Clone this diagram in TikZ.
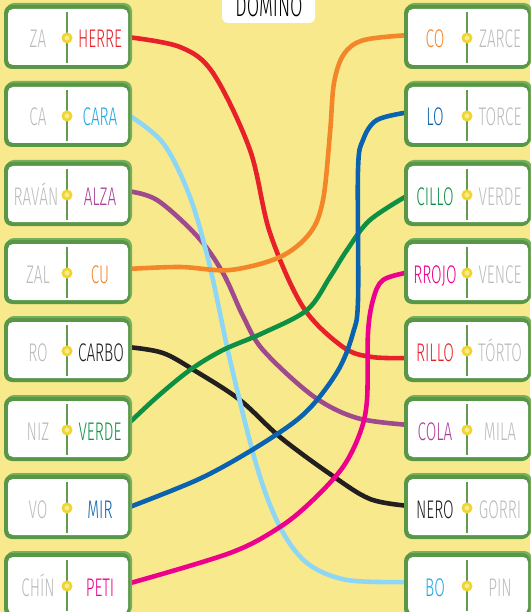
\documentclass[tikz,border=0pt]{standalone}
\usepackage{fontspec}
\newfontfamily\tf{Fira Sans Light}[FakeStretch=0.6]
\definecolor{bgyel}{RGB}{248,234,140}
\definecolor{tdark}{RGB}{88,150,72}
\definecolor{tlight}{RGB}{118,176,92}
\definecolor{tdiv}{RGB}{100,155,80}
\definecolor{dotyel}{RGB}{240,212,48}
\definecolor{dotpale}{RGB}{246,234,140}
\definecolor{wgray}{RGB}{188,188,188}
\definecolor{cred}{RGB}{232,32,42}
\definecolor{clblue}{RGB}{142,214,246}
\definecolor{tlblue}{RGB}{30,168,226}
\definecolor{cpurple}{RGB}{158,74,140}
\definecolor{tpurple}{RGB}{170,64,150}
\definecolor{corange}{RGB}{244,134,42}
\definecolor{cgreen}{RGB}{14,144,68}
\definecolor{cblue}{RGB}{11,99,176}
\definecolor{cpink}{RGB}{236,0,140}
\definecolor{cblack}{RGB}{35,31,32}
\tikzset{
  tilepic/.pic={
    \fill[tlight,rounded corners=8pt] (2,0) rectangle (128,64);
    \fill[tdark,rounded corners=8pt] (0,2) rectangle (126,66);
    \fill[white,rounded corners=5pt] (4,6) rectangle (124,62);
    \draw[tdiv,line width=1.3pt] (63,9) -- (63,60);
    \fill[dotyel] (63,35) circle[radius=5.5pt];
    \fill[dotpale] (63,35) circle[radius=2.6pt];
  },
  word/.style={font=\tf\fontsize{25.5}{25.5}\selectfont,inner sep=0pt,anchor=base},
  link/.style={line width=4.6pt,line join=round}
}
\begin{document}
\begin{tikzpicture}[x=1pt,y=-1pt]
\useasboundingbox (0,0) rectangle (530,612);
\fill[bgyel] (0,0) rectangle (530,612);
% attach points
\coordinate (L1) at (127,37);
\coordinate (L2) at (127,114);
\coordinate (L3) at (127,191);
\coordinate (L4) at (127,269);
\coordinate (L5) at (127,347);
\coordinate (L6) at (127,425);
\coordinate (L7) at (127,508);
\coordinate (L8) at (127,584);
\coordinate (R1) at (410,35);
\coordinate (R2) at (410,112);
\coordinate (R3) at (410,194);
\coordinate (R4) at (410,272);
\coordinate (R5) at (410,358);
\coordinate (R6) at (410,425);
\coordinate (R7) at (410,506);
\coordinate (R8) at (410,582);
% connectors
\draw[link,cblack] plot[smooth,tension=0.55] coordinates {(L5) (163,353) (197,372) (240,400) (280,437) (330,474) (370,499) (R7)};
\draw[link,cpurple] plot[smooth,tension=0.55] coordinates {(L3) (157,200) (197,236) (223,273) (243,316) (263,350) (313,396) (357,418) (R6)};
\draw[link,clblue] plot[smooth,tension=0.55] coordinates {(L2) (163,143) (190,197) (210,267) (230,360) (257,467) (280,527) (307,563) (347,580) (R8)};
\draw[link,cred] plot[smooth,tension=0.55] coordinates {(L1) (180,47) (213,73) (250,150) (270,233) (303,307) (343,347) (372,357) (R5)};
\draw[link,corange] plot[smooth,tension=0.55] coordinates {(L4) (180,267) (230,270) (280,257) (310,233) (323,200) (330,133) (334,83) (344,54) (364,40) (R1)};
\draw[link,cgreen] plot[smooth,tension=0.55] coordinates {(R3) (370,220) (347,250) (330,277) (307,310) (263,333) (223,350) (190,370) (157,397) (L6)};
\draw[link,cblue] plot[smooth,tension=0.55] coordinates {(R2) (377,120) (363,140) (358,170) (358,300) (353,333) (340,367) (317,400) (293,423) (247,453) (197,480) (L7)};
\draw[link,cpink] plot[smooth,tension=0.55] coordinates {(R4) (383,280) (373,300) (368,333) (367,400) (360,433) (343,467) (313,500) (280,527) (230,553) (L8)};
% title
\fill[white,rounded corners=6pt] (222,-10) rectangle (315,23);
\node[word,font=\tf\fontsize{30}{30}\selectfont,text=black] (title) at (269,17) {DOMINO};
% tiles
\foreach \k/\t in {1/3,2/81,3/160,4/238,5/316,6/395,7/473,8/551}{
  \pic at (4,\t) {tilepic};
  \pic at (404,\t) {tilepic};
}
\node[word,text=wgray] (l1a) at (38,48) {ZA};
\node[word,text=cred] (l1b) at (100,48) {HERRE};
\node[word,text=wgray] (l2a) at (38,126) {CA};
\node[word,text=tlblue] (l2b) at (100,126) {CARA};
\node[word,text=wgray] (l3a) at (36,205) {RAVÁN};
\node[word,text=tpurple] (l3b) at (100,205) {ALZA};
\node[word,text=wgray] (l4a) at (38,283) {ZAL};
\node[word,text=corange] (l4b) at (100,283) {CU};
\node[word,text=wgray] (l5a) at (38,361) {RO};
\node[word,text=cblack] (l5b) at (101,361) {CARBO};
\node[word,text=wgray] (l6a) at (38,440) {NIZ};
\node[word,text=cgreen] (l6b) at (100,440) {VERDE};
\node[word,text=wgray] (l7a) at (38,518) {VO};
\node[word,text=cblue] (l7b) at (100,518) {MIR};
\node[word,text=wgray] (l8a) at (38,596) {CHÍN};
\node[word,text=cpink] (l8b) at (100,596) {PETI};
\node[word,text=corange] (r1a) at (435,48) {CO};
\node[word,text=wgray] (r1b) at (500,48) {ZARCE};
\node[word,text=cblue] (r2a) at (435,126) {LO};
\node[word,text=wgray] (r2b) at (500,126) {TORCE};
\node[word,text=cgreen] (r3a) at (435,205) {CILLO};
\node[word,text=wgray] (r3b) at (500,205) {VERDE};
\node[word,text=cpink] (r4a) at (435,283) {RROJO};
\node[word,text=wgray] (r4b) at (500,283) {VENCE};
\node[word,text=cred] (r5a) at (435,361) {RILLO};
\node[word,text=wgray] (r5b) at (500,361) {TÓRTO};
\node[word,text=tpurple] (r6a) at (435,440) {COLA};
\node[word,text=wgray] (r6b) at (500,440) {MILA};
\node[word,text=cblack] (r7a) at (435,518) {NERO};
\node[word,text=wgray] (r7b) at (500,518) {GORRI};
\node[word,text=tlblue] (r8a) at (435,596) {BO};
\node[word,text=wgray] (r8b) at (500,596) {PIN};
\end{tikzpicture}
\end{document}
